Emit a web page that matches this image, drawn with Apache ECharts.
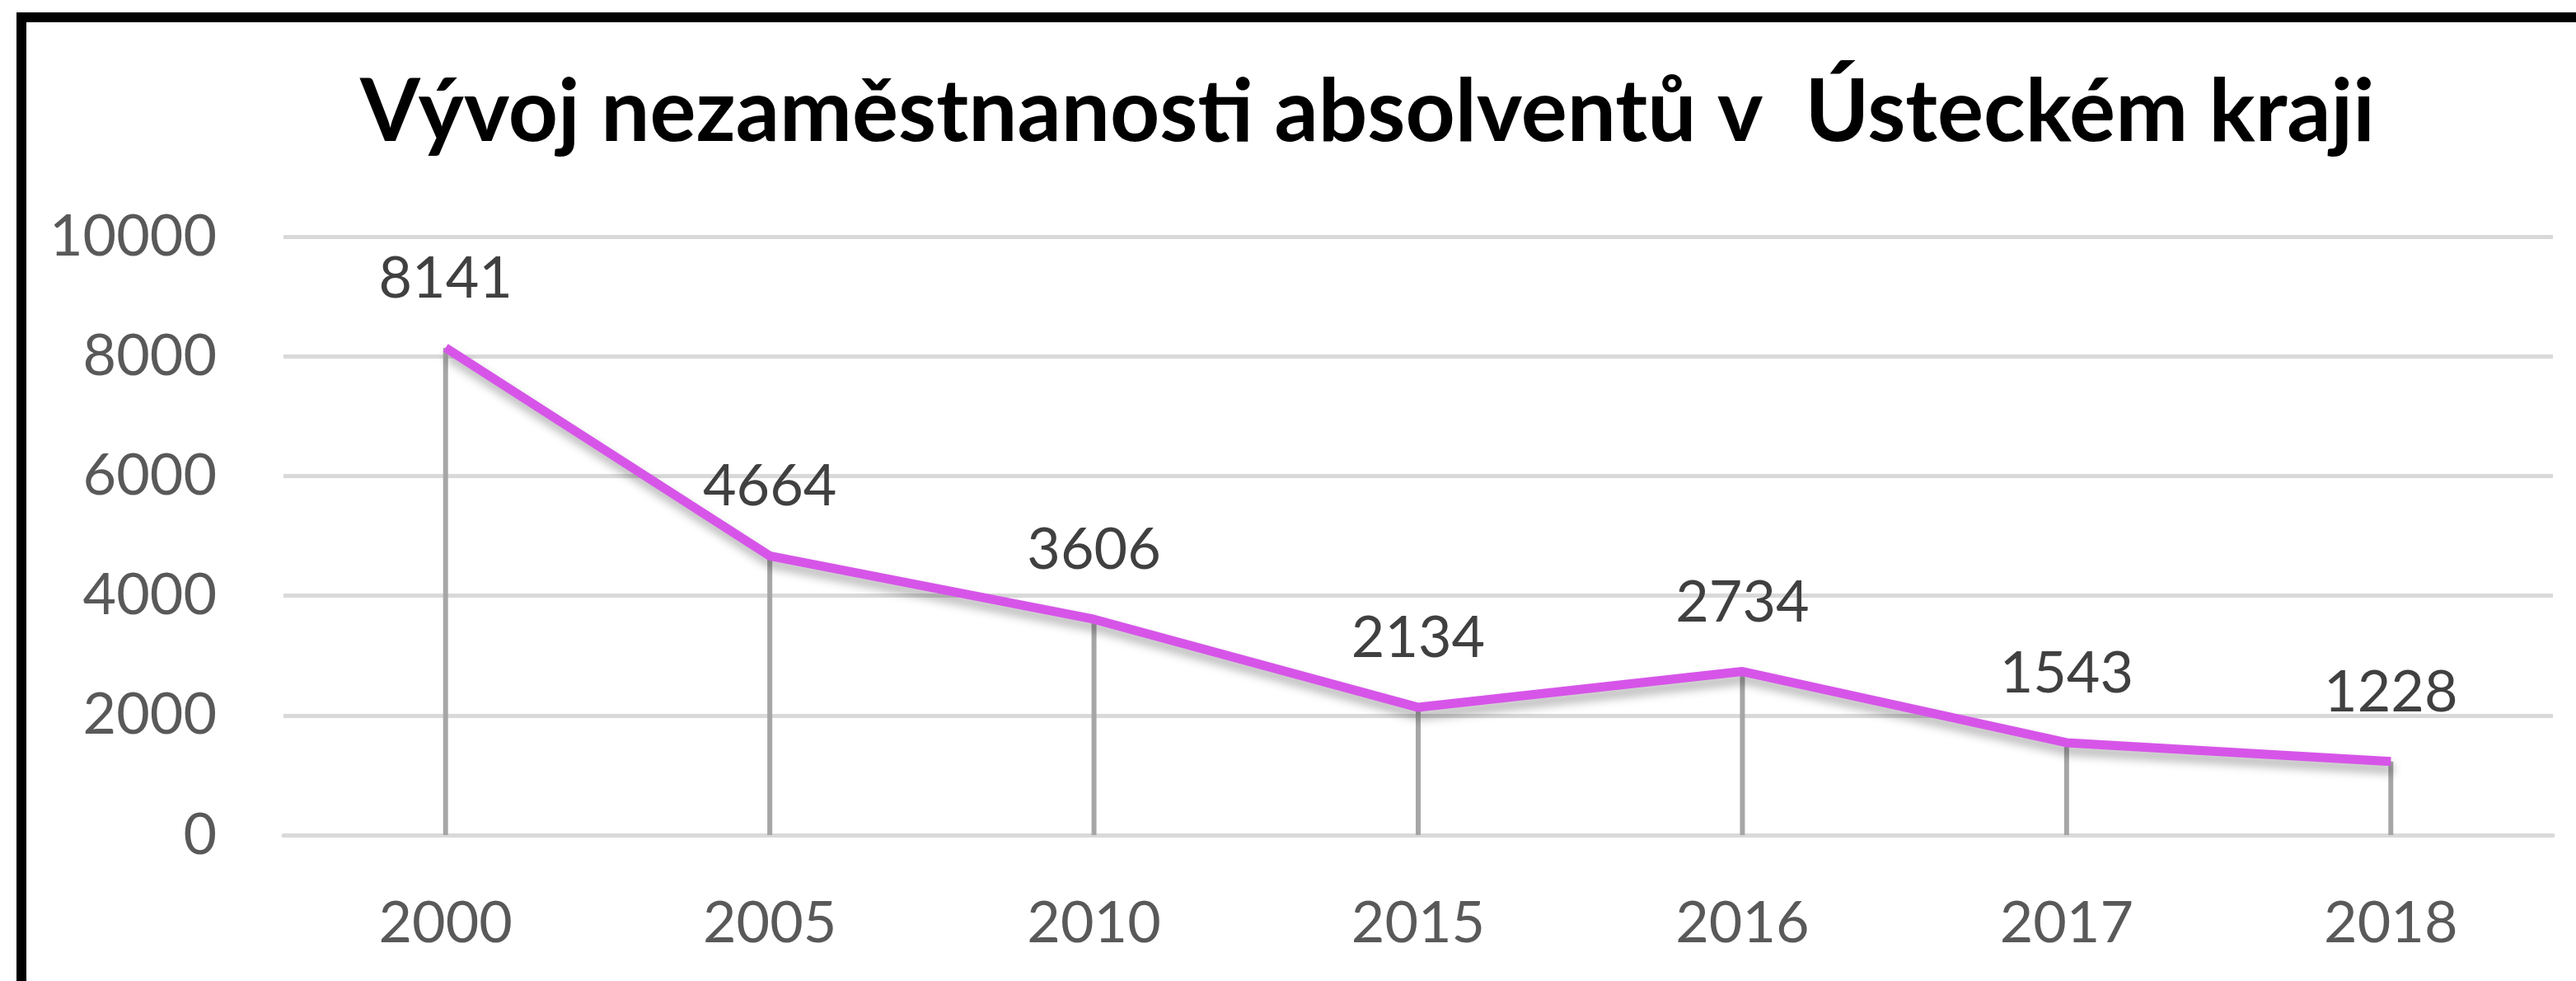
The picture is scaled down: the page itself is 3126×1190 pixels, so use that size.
<!DOCTYPE html>
<html>
<head>
<meta charset="utf-8">
<script src="https://cdn.jsdelivr.net/npm/echarts@6/dist/echarts.min.js"></script>
<style>
  html, body { margin: 0; padding: 0; background: #fff; }
  #chart { width: 3126px; height: 1190px; }
</style>
</head>
<body>
<div id="chart"></div>
<script>
const titleText = 'Vývoj nezaměstnanosti absolventů v  Ústeckém kraji'
const years = ['2000', '2005', '2010', '2015', '2016', '2017', '2018']
const graduates = [8141, 4664, 3606, 2134, 2734, 1543, 1228]
const yTicks = { min: 0, max: 10000, interval: 2000 }

const font = 'Lato'
const chart = echarts.init(document.getElementById('chart'))

chart.setOption({
  animation: false,
  backgroundColor: '#fff',
  textStyle: { fontFamily: font },
  title: {
    text: titleText,
    left: 432,
    top: 80,
    textStyle: {
      fontFamily: font,
      fontWeight: 'bold',
      fontSize: 105,
      color: '#000'
    }
  },
  graphic: [
    // chart frame (top and left edges visible)
    { type: 'rect', shape: { x: 20, y: 15, width: 3106, height: 12 }, style: { fill: '#000' } },
    { type: 'rect', shape: { x: 20, y: 15, width: 12, height: 1175 }, style: { fill: '#000' } }
  ],
  grid: {
    left: 344,
    right: 28,
    top: 287,
    bottom: 177,
    containLabel: false,
    outerBoundsMode: 'none'
  },
  xAxis: {
    type: 'category',
    data: years,
    boundaryGap: true,
    axisLine: { lineStyle: { color: '#d9d9d9', width: 5 } },
    axisTick: { show: false },
    axisLabel: {
      margin: 72,
      fontSize: 70,
      color: '#595959',
      fontFamily: font
    }
  },
  yAxis: {
    type: 'value',
    min: yTicks.min,
    max: yTicks.max,
    interval: yTicks.interval,
    axisLine: { show: false },
    axisTick: { show: false },
    splitLine: { lineStyle: { color: '#d9d9d9', width: 5 } },
    axisLabel: {
      margin: 81,
      fontSize: 70,
      color: '#595959',
      fontFamily: font,
      formatter: v => String(v)
    }
  },
  series: [
    {
      // drop lines from each point down to the axis
      type: 'bar',
      data: graduates,
      barWidth: 6,
      silent: true,
      z: 1,
      itemStyle: { color: '#a6a6a6' }
    },
    {
      type: 'line',
      data: graduates,
      z: 3,
      symbol: 'circle',
      symbolSize: 1,
      itemStyle: { color: '#d655e8' },
      lineStyle: {
        color: '#d655e8',
        width: 11,
        shadowColor: 'rgba(0,0,0,0.3)',
        shadowBlur: 12,
        shadowOffsetX: 3,
        shadowOffsetY: 9
      },
      label: {
        show: true,
        position: 'top',
        distance: 48,
        fontSize: 70,
        color: '#404040',
        fontFamily: font
      }
    }
  ]
})
</script>
</body>
</html>
